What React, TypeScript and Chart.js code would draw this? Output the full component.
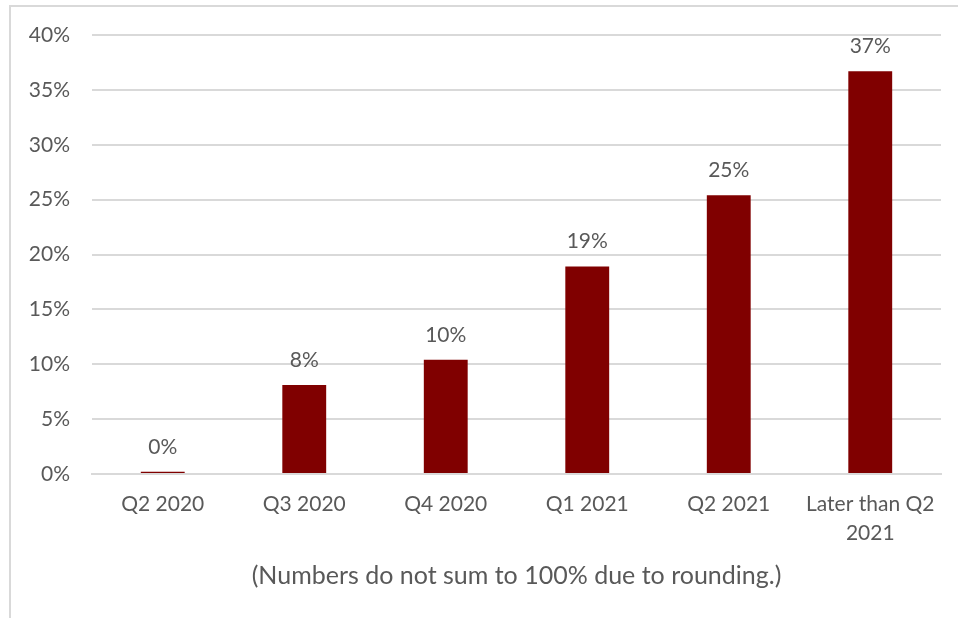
import React, { useEffect, useRef } from "react";
import { Chart, registerables } from "chart.js";

Chart.register(...registerables);

const categories: (string | string[])[] = [
  "Q2 2020",
  "Q3 2020",
  "Q4 2020",
  "Q1 2021",
  "Q2 2021",
  ["Later than Q2", "2021"],
];
const values: number[] = [0.2, 8.1, 10.4, 18.9, 25.4, 36.7];
const valueLabels: string[] = ["0%", "8%", "10%", "19%", "25%", "37%"];
const axisTitle = "(Numbers do not sum to 100% due to rounding.)";

const FONT = "Lato, 'Open Sans', sans-serif";
const TEXT = "#595959";

const labelPlugin = {
  id: "valueLabels",
  afterDatasetsDraw(chart: any) {
    const ctx = chart.ctx;
    const meta = chart.getDatasetMeta(0);
    ctx.save();
    ctx.font = `21px ${FONT}`;
    ctx.fillStyle = TEXT;
    ctx.textAlign = "center";
    ctx.textBaseline = "middle";
    meta.data.forEach((bar: any, i: number) => {
      ctx.fillText(valueLabels[i], bar.x, bar.y - 25);
    });
    ctx.restore();
  },
};

export default function App() {
  const ref = useRef<HTMLCanvasElement>(null);
  useEffect(() => {
    if (!ref.current) return;
    const chart = new Chart(ref.current, {
      type: "bar",
      data: {
        labels: categories,
        datasets: [
          {
            data: values,
            backgroundColor: "#800000",
            borderWidth: 0,
            barPercentage: 0.31,
            categoryPercentage: 1,
          },
        ],
      },
      options: {
        responsive: false,
        animation: false,
        devicePixelRatio: 1,
        layout: { padding: { left: 0, right: 17, top: 35, bottom: 0 } },
        plugins: {
          legend: { display: false },
          tooltip: { enabled: false },
        },
        scales: {
          x: {
            afterFit(scale: any) {
              scale.height = 144;
            },
            grid: { display: false, drawTicks: false },
            border: { display: true, color: "#d9d9d9", width: 2 },
            ticks: {
              color: TEXT,
              font: { family: FONT, size: 21, lineHeight: 1.38 },
              padding: 16,
              maxRotation: 0,
              autoSkip: false,
            },
            title: {
              display: true,
              text: axisTitle,
              color: TEXT,
              font: { family: FONT, size: 25, lineHeight: 1.2 },
              padding: { top: 0, bottom: 27 },
            },
          },
          y: {
            min: 0,
            max: 40,
            afterFit(scale: any) {
              scale.width = 92;
            },
            grid: { color: "#d9d9d9", lineWidth: 2, drawTicks: false },
            border: { display: false },
            ticks: {
              stepSize: 5,
              color: TEXT,
              padding: 22,
              font: { family: FONT, size: 21 },
              callback: (v: any) => `${v}%`,
            },
          },
        },
      },
      plugins: [labelPlugin],
    });
    return () => chart.destroy();
  }, []);

  return (
    <div
      style={{
        position: "fixed",
        left: 0,
        top: 0,
        width: 958,
        height: 618,
        background: "#fff",
        overflow: "hidden",
      }}
    >
      <div
        style={{
          position: "absolute",
          left: 9,
          top: 5,
          width: 1100,
          height: 800,
          border: "2px solid #d9d9d9",
          boxSizing: "border-box",
        }}
      />
      <canvas
        ref={ref}
        width={958}
        height={618}
        style={{ position: "absolute", left: 0, top: 0 }}
      />
    </div>
  );
}
